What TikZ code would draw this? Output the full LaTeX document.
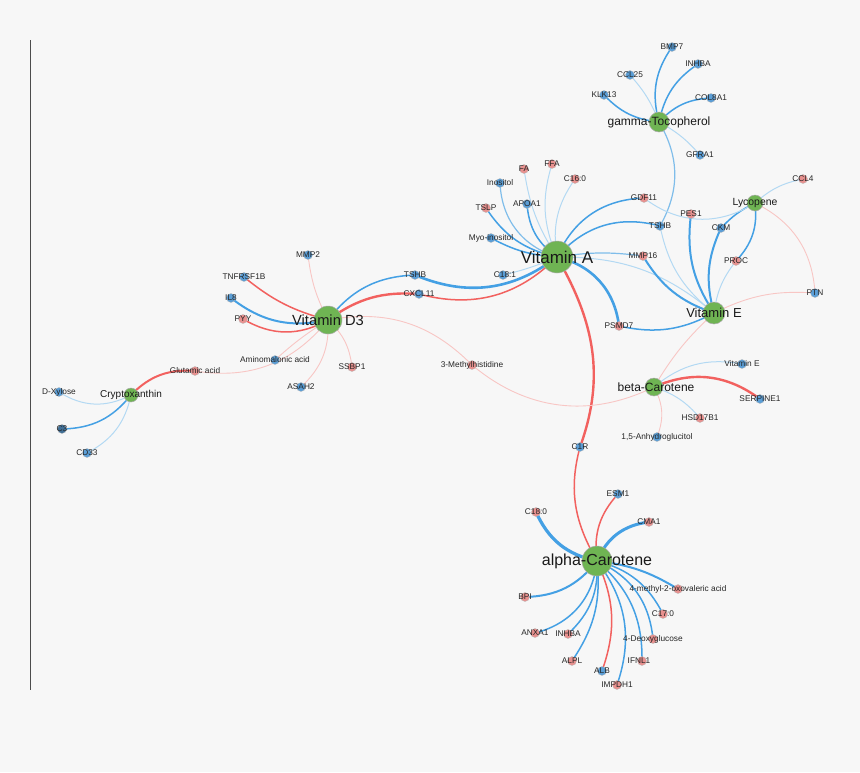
\documentclass[tikz,border=0pt]{standalone}
\usepackage{fontspec}
\setmainfont{Liberation Sans}
\pgfdeclarelayer{back}
\pgfdeclarelayer{edges}
\pgfsetlayers{back,edges,main}
\definecolor{bgc}{HTML}{F7F7F7}
\definecolor{bS}{HTML}{44A0E4}
\definecolor{bM}{HTML}{7FBDEA}
\definecolor{bL}{HTML}{B3D9F3}
\definecolor{rS}{HTML}{F2615F}
\definecolor{rL}{HTML}{F8C6C4}
\definecolor{nb}{HTML}{5B9ED6}
\definecolor{nr}{HTML}{E8918F}
\definecolor{hg}{HTML}{6FB453}
\begin{document}
\begin{tikzpicture}[x=1pt,y=-1pt,
  sb/.style={circle,fill=nb,draw=gray!55,line width=0.3pt,minimum size=9pt,inner sep=0pt},
  sr/.style={sb,fill=nr},
  lab/.style={font=\fontsize{8.3}{9}\selectfont,text=black!85,inner sep=0pt},
  hub/.style={circle,fill=hg,draw=gray!65,line width=0.5pt,inner sep=0pt},
  hl/.style={text=black!90,inner sep=0pt},
  ebt/.style={draw=bS,line width=2.6pt},
  ebm/.style={draw=bS,line width=1.5pt},
  ebk/.style={draw=bM,line width=1.2pt},
  ebl/.style={draw=bL,line width=1pt},
  ert/.style={draw=rS,line width=2.4pt},
  erm/.style={draw=rS,line width=1.5pt},
  erl/.style={draw=rL,line width=0.9pt}]
\begin{pgfonlayer}{back}
\fill[bgc] (0,0) rectangle (860,772);
\draw[black!70,line width=0.7pt] (30.5,40) -- (30.5,690);
\end{pgfonlayer}
\useasboundingbox (0,0) rectangle (860,772);

% hubs
\node[hub,minimum size=32pt,label={[hl,font=\fontsize{17}{18}\selectfont]center:Vitamin A}] (va) at (557,257) {};
\node[hub,minimum size=30pt,label={[hl,font=\fontsize{16}{17}\selectfont]center:alpha-Carotene}] (ac) at (597,561) {};
\node[hub,minimum size=28pt,label={[hl,font=\fontsize{14.7}{16}\selectfont]center:Vitamin D3}] (vd) at (328,320) {};
\node[hub,minimum size=22pt,label={[hl,font=\fontsize{13}{14}\selectfont]center:Vitamin E}] (ve) at (714,313) {};
\node[hub,minimum size=20pt,label={[hl,font=\fontsize{12}{13}\selectfont]center:gamma-Tocopherol}] (gt) at (659,122) {};
\node[hub,minimum size=18pt,label={[hl,font=\fontsize{12}{13}\selectfont,xshift=2pt]center:beta-Carotene}] (bc) at (654,387) {};
\node[hub,minimum size=16pt,label={[hl,font=\fontsize{10.4}{11}\selectfont]center:Lycopene}] (ly) at (755,203) {};
\node[hub,minimum size=14pt,label={[hl,font=\fontsize{10}{11}\selectfont]center:Cryptoxanthin}] (cx) at (131,395) {};

% satellites
\node[sb,label={[lab]center:BMP7}] (bmp7) at (672,47) {};
\node[sb,label={[lab]center:INHBA}] (inhbaG) at (698,64) {};
\node[sb,label={[lab]center:CCL25}] (ccl25) at (630,75) {};
\node[sb,label={[lab]center:KLK13}] (klk13) at (604,95) {};
\node[sb,label={[lab]center:COL8A1}] (col8a1) at (711,98) {};
\node[sb,label={[lab]center:GFRA1}] (gfra1) at (700,155) {};
\node[sr,label={[lab]center:FA}] (fa) at (524,169) {};
\node[sr,label={[lab]center:FFA}] (ffa) at (552,164) {};
\node[sr,label={[lab]center:C16:0}] (c160) at (575,179) {};
\node[sb,label={[lab]center:Inositol}] (inositol) at (500,183) {};
\node[sb,label={[lab]center:APOA1}] (apoa1) at (527,204) {};
\node[sr,label={[lab]center:TSLP}] (tslp) at (486,208) {};
\node[sr,label={[lab]center:GDF11}] (gdf11) at (644,198) {};
\node[sb,label={[lab]center:TSHB}] (tshbR) at (660,226) {};
\node[sb,label={[lab]center:Myo-inositol}] (myo) at (491,238) {};
\node[sr,label={[lab]center:MMP16}] (mmp16) at (643,256) {};
\node[sb,label={[lab,xshift=2pt]center:C18:1}] (c181) at (503,275) {};
\node[sr,label={[lab]center:PSMD7}] (psmd7) at (619,326) {};
\node[sr,label={[lab]center:CCL4}] (ccl4) at (803,179) {};
\node[sr,label={[lab]center:PES1}] (pes1) at (691,214) {};
\node[sb,label={[lab]center:CKM}] (ckm) at (721,228) {};
\node[sr,label={[lab]center:PROC}] (proc) at (736,261) {};
\node[sb,label={[lab]center:PTN}] (ptn) at (815,293) {};
\node[sb,label={[lab]center:MMP2}] (mmp2) at (308,255) {};
\node[sb,label={[lab]center:TNFRSF1B}] (tnf) at (244,277) {};
\node[sb,label={[lab]center:TSHB}] (tshbL) at (415,275) {};
\node[sb,label={[lab]center:IL8}] (il8) at (231,298) {};
\node[sb,label={[lab]center:CXCL11}] (cxcl11) at (419,294) {};
\node[sr,label={[lab]center:PYY}] (pyy) at (243,319) {};
\node[sb,label={[lab]center:Aminomalonic acid}] (amino) at (275,360) {};
\node[sr,label={[lab]center:SSBP1}] (ssbp1) at (352,367) {};
\node[sb,label={[lab]center:ASAH2}] (asah2) at (301,387) {};
\node[sr,label={[lab]center:Glutamic acid}] (glu) at (195,371) {};
\node[sr,label={[lab]center:3-Methylhistidine}] (mh) at (472,365) {};
\node[sb,label={[lab]center:D-Xylose}] (dx) at (59,392) {};
\node[sb,fill=nb!70!black,label={[lab]center:C3}] (c3) at (62,429) {};
\node[sb,label={[lab]center:CD33}] (cd33) at (87,453) {};
\node[sb,label={[lab]center:Vitamin E}] (veS) at (742,364) {};
\node[sb,label={[lab]center:SERPINE1}] (serp) at (760,399) {};
\node[sr,label={[lab]center:HSD17B1}] (hsd) at (700,418) {};
\node[sb,label={[lab]center:1,5-Anhydroglucitol}] (anhy) at (657,437) {};
\node[sb,label={[lab]center:C1R}] (c1r) at (580,447) {};
\node[sb,label={[lab]center:ESM1}] (esm1) at (618,494) {};
\node[sr,label={[lab]center:C18:0}] (c180) at (536,512) {};
\node[sr,label={[lab]center:CMA1}] (cma1) at (649,522) {};
\node[sr,label={[lab]center:4-methyl-2-oxovaleric acid}] (methyl) at (678,589) {};
\node[sr,label={[lab]center:BPI}] (bpi) at (525,597) {};
\node[sr,label={[lab]center:C17:0}] (c170) at (663,614) {};
\node[sr,label={[lab]center:ANXA1}] (anxa1) at (535,633) {};
\node[sr,label={[lab]center:INHBA}] (inhbaA) at (568,634) {};
\node[sr,label={[lab]center:4-Deoxyglucose}] (deoxy) at (653,639) {};
\node[sr,label={[lab]center:ALPL}] (alpl) at (572,661) {};
\node[sr,label={[lab,xshift=-3pt]center:IFNL1}] (ifnl1) at (642,661) {};
\node[sb,label={[lab]center:ALB}] (alb) at (602,671) {};
\node[sr,label={[lab]center:IMPDH1}] (impdh1) at (617,685) {};

\begin{pgfonlayer}{edges}
% gamma-Tocopherol
\draw[ebm] (gt.center) to[bend left=25] (bmp7.center);
\draw[ebm] (gt.center) to[bend left=22] (inhbaG.center);
\draw[ebl] (gt.center) to[bend right=10] (ccl25.center);
\draw[ebm] (klk13.center) to[bend right=20] (gt.center);
\draw[ebm] (gt.center) to[bend left=22] (col8a1.center);
\draw[ebl] (gt.center) to[bend left=10] (gfra1.center);
\draw[ebk] (gt.center) to[bend left=30] (tshbR.center);
% Vitamin A
\draw[ebl] (va.center) to[bend left=12] (fa.center);
\draw[ebl] (va.center) to[bend left=20] (ffa.center);
\draw[ebl] (va.center) to[bend left=22] (c160.center);
\draw[ebk] (va.center) to[bend left=35] (inositol.center);
\draw[ebm] (va.center) to[bend left=25] (apoa1.center);
\draw[ebm] (va.center) to[bend left=22] (tslp.center);
\draw[ebm] (va.center) to[bend left=12] (myo.center);
\draw[ebm] (va.center) to[bend left=32] (gdf11.center);
\draw[ebm] (va.center) to[bend left=32] (tshbR.center);
\draw[ebk] (va.center) to[bend left=8] (mmp16.center);
\draw[ebl] (va.center) to[bend left=20] (ve.center);
\draw[ebl] (va.center) to[bend left=5] (c181.center);
\draw[ebt] (va.center) to[bend left=35] (psmd7.center);
\draw[ebt] (va.center) to[bend left=30] (tshbL.center);
\draw[erm] (va.center) to[bend left=30] (cxcl11.center);
\draw[ert] (va.center) to[out=-60,in=70] (c1r.center);
\draw[erm] (c1r.center) to[out=-105,in=120] (ac.center);
% Vitamin D3
\draw[erl] (vd.center) to[bend left=10] (mmp2.center);
\draw[erm] (vd.center) to[bend left=12] (tnf.center);
\draw[ebt,line width=2pt] (vd.center) to[bend left=25] (il8.center);
\draw[erm] (vd.center) to[bend left=30] (pyy.center);
\draw[ebm] (vd.center) to[bend left=25] (tshbL.center);
\draw[ert] (vd.center) to[bend left=20] (cxcl11.center);
\draw[erl] (vd.center) to[bend right=5] (amino.center);
\draw[erl] (vd.center) to[bend left=30] (glu.center);
\draw[erl] (vd.center) to[bend left=25] (asah2.center);
\draw[erl] (vd.center) to[bend left=20] (ssbp1.center);
\draw[erl] (vd.center) to[bend left=28] (mh.center);
\draw[erl] (mh.center) to[bend right=33] (bc.center);
% Cryptoxanthin
\draw[ert,line width=2pt] (cx.center) to[bend left=25] (glu.center);
\draw[ebl] (cx.center) to[bend left=30] (dx.center);
\draw[ebm] (cx.center) to[bend left=25] (c3.center);
\draw[ebl] (cx.center) to[bend left=25] (cd33.center);
% beta-Carotene
\draw[ebl] (bc.center) to[bend left=25] (veS.center);
\draw[ert] (bc.center) to[bend left=30] (serp.center);
\draw[ebl] (bc.center) to[bend left=15] (hsd.center);
\draw[erl] (bc.center) to[bend left=25] (anhy.center);
\draw[erl] (bc.center) to[bend left=8] (ve.center);
% Lycopene
\draw[ebl] (ly.center) to[bend left=15] (ccl4.center);
\draw[erl] (ly.center) to[bend left=30] (ptn.center);
\draw[ebm] (ly.center) to[bend right=10] (ckm.center);
\draw[ebm] (ly.center) to[bend left=25] (proc.center);
\draw[ebl] (ly.center) to[bend left=35] (gdf11.center);
% Vitamin E
\draw[ebt,line width=2pt] (ve.center) to[bend left=20] (pes1.center);
\draw[ebt,line width=2pt] (ve.center) to[bend left=20] (ckm.center);
\draw[ebl] (ve.center) to[bend left=15] (proc.center);
\draw[ebl] (ve.center) to[bend left=20] (tshbR.center);
\draw[ebt,line width=2pt] (ve.center) to[bend left=20] (mmp16.center);
\draw[ebm] (psmd7.center) to[bend right=20] (ve.center);
\draw[erl] (ve.center) to[bend left=15] (ptn.center);
% alpha-Carotene
\draw[erm] (ac.center) to[bend left=25] (esm1.center);
\draw[ebt,line width=3.2pt] (ac.center) to[bend left=27] (c180.center);
\draw[ebt,line width=3pt] (ac.center) to[bend left=30] (cma1.center);
\draw[ebm,line width=2pt] (ac.center) to[bend left=12] (methyl.center);
\draw[ebm] (ac.center) to[bend left=24] (c170.center);
\draw[ebm] (ac.center) to[bend left=30] (deoxy.center);
\draw[ebm] (ac.center) to[bend left=25] (ifnl1.center);
\draw[ebm] (ac.center) to[bend left=28] (impdh1.center);
\draw[erm] (ac.center) to[bend left=22] (alb.center);
\draw[ebm] (ac.center) to[bend left=20] (alpl.center);
\draw[ebm] (ac.center) to[bend left=25] (inhbaA.center);
\draw[ebm] (ac.center) to[bend left=35] (anxa1.center);
\draw[ebm,line width=2pt] (ac.center) to[bend left=25] (bpi.center);
\end{pgfonlayer}
\end{tikzpicture}
\end{document}
